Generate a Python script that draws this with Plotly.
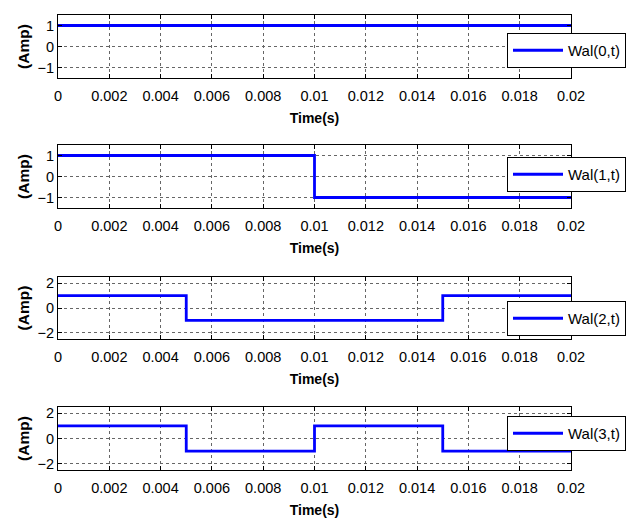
import plotly.graph_objects as go

# Data
t = [0, 0.005, 0.01, 0.015, 0.02]
wal0 = [1, 1, 1, 1, 1]
wal1 = [1, 1, -1, -1, -1]
wal2 = [1, -1, -1, 1, 1]
wal3 = [1, -1, 1, -1, -1]
series = [wal0, wal1, wal2, wal3]
names = ["Wal(0,t)", "Wal(1,t)", "Wal(2,t)", "Wal(3,t)"]

x_tickvals = [0, 0.002, 0.004, 0.006, 0.008, 0.01, 0.012, 0.014, 0.016, 0.018, 0.02]
x_ticktext = ["0", "0.002", "0.004", "0.006", "0.008", "0.01", "0.012", "0.014", "0.016", "0.018", "0.02"]
y_ranges = [[-1.5, 1.5], [-1.5, 1.5], [-2.5, 2.5], [-2.5, 2.5]]
y_tickvals = [[-1, 0, 1], [-1, 0, 1], [-2, 0, 2], [-2, 0, 2]]

# page body has an 8px default margin: work in window pixels, offset by 8
OFF = 8
W, H = 634 - OFF, 518 - OFF
plot_left, plot_right = 58 - OFF, 571 - OFF
plot_top, plot_bottom = 15 - OFF, 470 - OFF
ml, mr, mt, mb = plot_left, W - plot_right, plot_top, H - plot_bottom
ph = H - mt - mb
pw = W - ml - mr
panels_px = [(15, 78), (145, 208), (277, 339), (407, 470)]
legend_top_px = [33, 157, 301, 416]
legend_left_px = 507

def py(px):
    return 1 - (px - OFF - mt) / ph

fig = go.Figure()
FONT = "Liberation Sans, Arial, sans-serif"

for i in range(4):
    n = i + 1
    xa = "x" if n == 1 else f"x{n}"
    ya = "y" if n == 1 else f"y{n}"
    lg = "legend" if n == 1 else f"legend{n}"
    fig.add_trace(go.Scatter(
        x=t, y=series[i], mode="lines", line=dict(color="#0000ff", width=2.8, shape="hv"),
        name=names[i], xaxis=xa, yaxis=ya, legend=lg, showlegend=True,
    ))
    top, bot = panels_px[i]
    dom = [py(bot), py(top)]
    axis_common = dict(
        showline=True, linecolor="black", linewidth=1.2, mirror="ticks",
        ticks="inside", ticklen=4, tickcolor="black", tickwidth=1,
        showgrid=True, gridcolor="#666666", griddash="dot", gridwidth=1,
        zeroline=False, automargin=False,
        tickfont=dict(family=FONT, size=14.5, color="black"),
    )
    xkey = "xaxis" if n == 1 else f"xaxis{n}"
    ykey = "yaxis" if n == 1 else f"yaxis{n}"
    fig.update_layout({
        xkey: dict(
            axis_common, range=[0, 0.02], domain=[0, 1], anchor=ya,
            tickmode="array", tickvals=x_tickvals, ticktext=x_ticktext,
            ticklabelstandoff=4,
            title=dict(text="<b>Time(s)</b>", font=dict(family=FONT, size=14, color="black"), standoff=10),
        ),
        ykey: dict(
            axis_common, range=y_ranges[i], domain=dom, anchor=xa,
            tickmode="array", tickvals=y_tickvals[i],
            title=dict(text="<b>(Amp)</b>", font=dict(family=FONT, size=15.5, color="black"), standoff=4),
        ),
        lg: dict(
            x=(legend_left_px - OFF - ml) / pw, y=py(legend_top_px[i]),
            xanchor="left", yanchor="top",
            bgcolor="white", bordercolor="black", borderwidth=1,
            font=dict(family=FONT, size=15, color="black"),
            itemwidth=50,
        ),
    })

fig.update_layout(
    width=W, height=H,
    margin=dict(l=ml, r=mr, t=mt, b=mb, autoexpand=False),
    paper_bgcolor="white", plot_bgcolor="white",
    font=dict(family=FONT, color="black"),
)

fig.write_html("out.html")
